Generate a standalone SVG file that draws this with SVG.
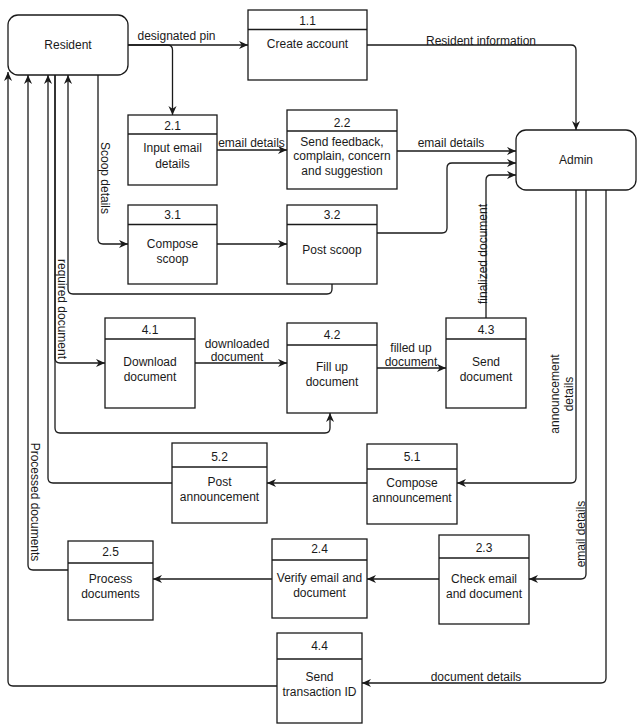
<svg xmlns="http://www.w3.org/2000/svg" width="637" height="728" viewBox="0 0 637 728">
  <style>
    .bg { fill: #ffffff; }
    .box { fill: #ffffff; stroke: #1a1a1a; stroke-width: 1.3; }
    .hdr { stroke: #1a1a1a; stroke-width: 1.3; }
    .t { font-family: "Liberation Sans", Arial, Helvetica, sans-serif; font-size: 12px; fill: #1a1a1a; text-anchor: middle; }
    .lbl { font-family: "Liberation Sans", Arial, Helvetica, sans-serif; font-size: 12px; fill: #1a1a1a; text-anchor: middle; }
    .flow { fill: none; stroke: #1a1a1a; stroke-width: 1.3; }
    .flow.a { marker-end: url(#arr); }
  </style>
  <defs>
    <marker id="arr" viewBox="0 0 10 10" refX="10" refY="5" markerWidth="9" markerHeight="9" markerUnits="userSpaceOnUse" orient="auto">
      <path d="M0,0.5 L10,5 L0,9.5 L3,5 z" fill="#1a1a1a"/>
    </marker>
  </defs>
  <rect class="bg" x="0" y="0" width="637" height="728"/>

  <!-- data flows -->
  <g id="connectors">
    <path class="flow a" d="M128,45 H248"/>
    <path class="flow a" d="M128,45 H167.5 Q172.5,45 172.5,50 V115"/>
    <path class="flow a" d="M367,45 H571 Q576,45 576,50 V130"/>
    <path class="flow a" d="M217,150 H287"/>
    <path class="flow a" d="M397,151 H516"/>
    <path class="flow a" d="M377,233 H442 Q447,233 447,228 V168 Q447,163 452,163 H516"/>
    <path class="flow a" d="M486,318 V180 Q486,175 491,175 H516"/>
    <path class="flow a" d="M98,75 V239 Q98,244 103,244 H128"/>
    <path class="flow a" d="M217,244 H287"/>
    <path class="flow a" d="M332,284 V289 Q332,294 327,294 H73 Q68,294 68,289 V75"/>
    <path class="flow a" d="M55,75 V358 Q55,363 60,363 H105"/>
    <path class="flow a" d="M55,75 V428 Q55,433 60,433 H325 Q330,433 330,428 V413"/>
    <path class="flow a" d="M195,363 H287"/>
    <path class="flow a" d="M377,368 H446"/>
    <path class="flow a" d="M576,190 V478 Q576,483 571,483 H457"/>
    <path class="flow a" d="M367,483 H267"/>
    <path class="flow a" d="M172,483 H53 Q48,483 48,478 V75"/>
    <path class="flow a" d="M586,190 V574 Q586,579 581,579 H529"/>
    <path class="flow a" d="M439,579 H367"/>
    <path class="flow a" d="M272,579 H153"/>
    <path class="flow a" d="M68,570 H33 Q28,570 28,565 V75"/>
    <path class="flow a" d="M606,190 V678 Q606,683 601,683 H362"/>
    <path class="flow a" d="M277,686 H13 Q8,686 8,681 V72"/>

    <!-- flow labels -->
    <text class="lbl" x="176.5" y="40">designated pin</text>
    <text class="lbl" x="481" y="45">Resident information</text>
    <text class="lbl" x="251.5" y="147">email details</text>
    <text class="lbl" x="451" y="147">email details</text>
    <text class="lbl" transform="translate(101,178) rotate(90)" x="0" y="0">Scoop details</text>
    <text class="lbl" transform="translate(58,309) rotate(90)" x="0" y="0">required document</text>
    <text class="lbl" transform="translate(31,502) rotate(90)" x="0" y="0">Processed documents</text>
    <text class="lbl" transform="translate(487,254) rotate(-90)" x="0" y="0">finalized document</text>
    <text class="lbl" transform="translate(562,394) rotate(-90)"><tspan x="0" y="-3">announcement</tspan><tspan x="0" y="11">details</tspan></text>
    <text class="lbl" transform="translate(585,534) rotate(-90)" x="0" y="0">email details</text>
    <text class="lbl"><tspan x="237" y="348">downloaded</tspan><tspan x="237" y="361">document</tspan></text>
    <text class="lbl"><tspan x="411" y="352">filled up</tspan><tspan x="411" y="366">document</tspan></text>
    <text class="lbl" x="476" y="681">document details</text>
  </g>

  <!-- external entities -->
  <g id="resident">
    <rect class="box" x="8" y="15" width="120" height="60" rx="10"/>
    <text class="t" x="68" y="49">Resident</text>
  </g>
  <g id="admin">
    <rect class="box" x="516" y="130" width="120" height="60" rx="10"/>
    <text class="t" x="576" y="164">Admin</text>
  </g>

  <!-- processes -->
  <g id="p1-1">
    <rect class="box" x="248" y="10" width="119" height="70"/>
    <line class="hdr" x1="248" y1="29.5" x2="367" y2="29.5"/>
    <text class="t" x="307.5" y="25">1.1</text>
    <text class="t" x="307.5" y="47.5">Create account</text>
  </g>
  <g id="p2-1">
    <rect class="box" x="128" y="115" width="89" height="70"/>
    <line class="hdr" x1="128" y1="134" x2="217" y2="134"/>
    <text class="t" x="172.5" y="130">2.1</text>
    <text class="t" x="172.5" y="152">Input email</text>
    <text class="t" x="172.5" y="167.5">details</text>
  </g>
  <g id="p2-2">
    <rect class="box" x="287" y="110" width="110" height="79"/>
    <line class="hdr" x1="287" y1="131" x2="397" y2="131"/>
    <text class="t" x="342" y="127">2.2</text>
    <text class="t" x="342" y="145.5">Send feedback,</text>
    <text class="t" x="342" y="160">complain, concern</text>
    <text class="t" x="342" y="174.5">and suggestion</text>
  </g>
  <g id="p3-1">
    <rect class="box" x="128" y="205" width="89" height="79"/>
    <line class="hdr" x1="128" y1="224.5" x2="217" y2="224.5"/>
    <text class="t" x="172.5" y="219">3.1</text>
    <text class="t" x="172.5" y="247.5">Compose</text>
    <text class="t" x="172.5" y="262.5">scoop</text>
  </g>
  <g id="p3-2">
    <rect class="box" x="287" y="205" width="90" height="79"/>
    <line class="hdr" x1="287" y1="224.5" x2="377" y2="224.5"/>
    <text class="t" x="332" y="219">3.2</text>
    <text class="t" x="332" y="254">Post scoop</text>
  </g>
  <g id="p4-1">
    <rect class="box" x="105" y="318" width="90" height="90"/>
    <line class="hdr" x1="105" y1="339" x2="195" y2="339"/>
    <text class="t" x="150" y="333.5">4.1</text>
    <text class="t" x="150" y="366">Download</text>
    <text class="t" x="150" y="380.5">document</text>
  </g>
  <g id="p4-2">
    <rect class="box" x="287" y="323" width="90" height="90"/>
    <line class="hdr" x1="287" y1="345" x2="377" y2="345"/>
    <text class="t" x="332" y="338.5">4.2</text>
    <text class="t" x="332" y="371">Fill up</text>
    <text class="t" x="332" y="386">document</text>
  </g>
  <g id="p4-3">
    <rect class="box" x="446" y="318" width="80" height="90"/>
    <line class="hdr" x1="446" y1="339" x2="526" y2="339"/>
    <text class="t" x="486" y="333.5">4.3</text>
    <text class="t" x="486" y="366">Send</text>
    <text class="t" x="486" y="380.5">document</text>
  </g>
  <g id="p5-1">
    <rect class="box" x="367" y="444" width="90" height="80"/>
    <line class="hdr" x1="367" y1="469" x2="457" y2="469"/>
    <text class="t" x="412" y="461">5.1</text>
    <text class="t" x="412" y="487">Compose</text>
    <text class="t" x="412" y="501.5">announcement</text>
  </g>
  <g id="p5-2">
    <rect class="box" x="172" y="443" width="95" height="80"/>
    <line class="hdr" x1="172" y1="467" x2="267" y2="467"/>
    <text class="t" x="219.5" y="461">5.2</text>
    <text class="t" x="219.5" y="486">Post</text>
    <text class="t" x="219.5" y="500.5">announcement</text>
  </g>
  <g id="p2-3">
    <rect class="box" x="439" y="535" width="90" height="89"/>
    <line class="hdr" x1="439" y1="558" x2="529" y2="558"/>
    <text class="t" x="484" y="551.5">2.3</text>
    <text class="t" x="484" y="582.5">Check email</text>
    <text class="t" x="484" y="597.5">and document</text>
  </g>
  <g id="p2-4">
    <rect class="box" x="272" y="539" width="95" height="79"/>
    <line class="hdr" x1="272" y1="560" x2="367" y2="560"/>
    <text class="t" x="319.5" y="552.5">2.4</text>
    <text class="t" x="319.5" y="581.5">Verify email and</text>
    <text class="t" x="319.5" y="597">document</text>
  </g>
  <g id="p2-5">
    <rect class="box" x="68" y="541" width="85" height="79"/>
    <line class="hdr" x1="68" y1="563" x2="153" y2="563"/>
    <text class="t" x="110.5" y="556">2.5</text>
    <text class="t" x="110.5" y="582.5">Process</text>
    <text class="t" x="110.5" y="597.5">documents</text>
  </g>
  <g id="p4-4">
    <rect class="box" x="277" y="633" width="85" height="90"/>
    <line class="hdr" x1="277" y1="659" x2="362" y2="659"/>
    <text class="t" x="319.5" y="650">4.4</text>
    <text class="t" x="319.5" y="681">Send</text>
    <text class="t" x="319.5" y="696">transaction ID</text>
  </g>
</svg>
